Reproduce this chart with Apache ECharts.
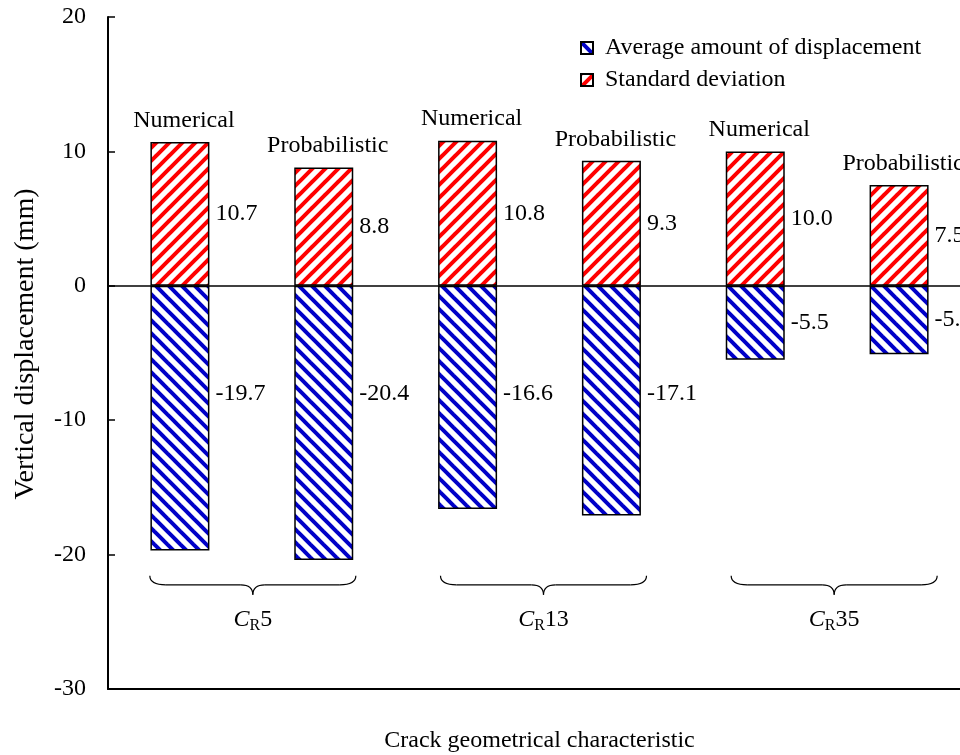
<!DOCTYPE html>
<html>
<head>
<meta charset="utf-8">
<script src="https://cdn.jsdelivr.net/npm/echarts@6/dist/echarts.min.js"></script>
<style>
  html, body { margin: 0; padding: 0; background: #fff; }
  #chart { width: 960px; height: 755px; }
</style>
</head>
<body>
<div id="chart"></div>
<script>
// Crack groups (C_R value) and the two estimation methods per group
const groups = ['5', '13', '35'];
const methods = ['Numerical', 'Probabilistic'];
const categories = ['CR5-Num', 'CR5-Prob', 'CR13-Num', 'CR13-Prob', 'CR35-Num', 'CR35-Prob'];

// Vertical displacement (mm)
const averageDisp = [-19.7, -20.4, -16.6, -17.1, -5.5, -5.1];
const stdDev = [10.7, 8.8, 10.8, 9.3, 10.0, 7.5];

const yTicks = { min: -30, max: 20, interval: 10 };

const FONT = "'Liberation Serif', 'Times New Roman', serif";
const FS = 24;
const BAR_W = 59;

// diagonal hatch tile: dir = 1 for "/" , -1 for "\"
function hatch(color, dir) {
  const s = 13;
  const c = document.createElement('canvas');
  c.width = s; c.height = s;
  const ctx = c.getContext('2d');
  ctx.fillStyle = '#ffffff';
  ctx.fillRect(0, 0, s, s);
  ctx.strokeStyle = color;
  ctx.lineWidth = 4;
  ctx.lineCap = 'square';
  for (const k of [-s, 0, s]) {
    ctx.beginPath();
    if (dir > 0) { ctx.moveTo(k, s); ctx.lineTo(k + s, 0); }
    else { ctx.moveTo(k, 0); ctx.lineTo(k + s, s); }
    ctx.stroke();
  }
  return { image: c, repeat: 'repeat' };
}

const chart = echarts.init(document.getElementById('chart'), null, { renderer: 'canvas' });

const valueLabel = {
  show: true, position: 'right', distance: 6,
  fontFamily: FONT, fontSize: FS, color: '#000',
  formatter: p => p.value.toFixed(1)
};

chart.setOption({
  animation: false,
  backgroundColor: '#ffffff',
  textStyle: { fontFamily: FONT, color: '#000' },
  grid: { left: 108, top: 17, bottom: 66, width: 863, containLabel: false, outerBoundsMode: 'none' },
  legend: {
    orient: 'vertical',
    left: 575,
    top: 31,
    itemWidth: 12,
    itemHeight: 12,
    itemGap: 8,
    icon: 'rect',
    data: ['Average amount of displacement', 'Standard deviation'],
    textStyle: { fontFamily: FONT, fontSize: FS, color: '#000', padding: [0, 0, 0, 7] }
  },
  xAxis: {
    type: 'category',
    data: categories,
    axisLine: { onZero: false, lineStyle: { color: '#000', width: 2 } },
    axisTick: { show: false },
    axisLabel: { show: false },
    name: 'Crack geometrical characteristic',
    nameLocation: 'middle',
    nameGap: 40,
    nameTextStyle: { fontFamily: FONT, fontSize: FS, color: '#000' }
  },
  yAxis: {
    type: 'value',
    min: yTicks.min,
    max: yTicks.max,
    interval: yTicks.interval,
    axisLine: { show: true, lineStyle: { color: '#000', width: 2 } },
    axisTick: { show: true, inside: true, length: 7, lineStyle: { color: '#000', width: 1.5 } },
    axisLabel: { fontFamily: FONT, fontSize: FS, color: '#000', margin: 22 },
    splitLine: { show: false },
    name: 'Vertical displacement (mm)',
    nameLocation: 'middle',
    nameGap: 68,
    nameTextStyle: { fontFamily: FONT, fontSize: 28, color: '#000', padding: [0, 0, 0, 18] }
  },
  series: [
    {
      name: 'Average amount of displacement',
      type: 'bar',
      stack: 'disp',
      barWidth: BAR_W,
      data: averageDisp,
      itemStyle: { color: hatch('#0000c8', -1), borderColor: '#000', borderWidth: 1.5 },
      label: valueLabel,
      markLine: {
        silent: true,
        symbol: 'none',
        label: { show: false },
        lineStyle: { color: '#000', width: 1.5, type: 'solid' },
        data: [{ yAxis: 0 }]
      },
      z: 2
    },
    {
      name: 'Standard deviation',
      type: 'bar',
      stack: 'disp',
      barWidth: BAR_W,
      data: stdDev,
      itemStyle: { color: hatch('#ff0000', 1), borderColor: '#000', borderWidth: 1.5 },
      label: valueLabel,
      z: 2
    },
    {
      // method names sitting above each standard-deviation bar
      name: 'method',
      type: 'scatter',
      data: stdDev,
      symbolSize: 1,
      itemStyle: { color: 'transparent', opacity: 1 },
      silent: true,
      label: {
        show: true, position: 'top', distance: 9, offset: [4, 0],
        fontFamily: FONT, fontSize: FS, color: '#000',
        formatter: p => methods[p.dataIndex % 2]
      },
      z: 3
    }
  ]
});

// long negative bars carry their label at a fixed depth, short ones at mid-bar
const pxPerUnit = chart.convertToPixel({ yAxisIndex: 0 }, 0) - chart.convertToPixel({ yAxisIndex: 0 }, 1);
const avgItems = averageDisp.map(v => {
  const target = Math.max(v / 2, -8);
  return { value: v, label: { offset: [0, (v / 2 - target) * pxPerUnit] } };
});

// curly braces grouping the two bars of each crack group
const y0 = chart.convertToPixel({ yAxisIndex: 0 }, 0);
const braceTop = y0 + 290, braceMid = y0 + 299, braceTip = y0 + 309, labelY = y0 + 334;
const braceStyle = { fill: 'none', stroke: '#000', lineWidth: 1.2 };
const graphics = [];
groups.forEach((g, i) => {
  const xa = chart.convertToPixel({ xAxisIndex: 0 }, categories[2 * i]);
  const xb = chart.convertToPixel({ xAxisIndex: 0 }, categories[2 * i + 1]);
  const xm = (xa + xb) / 2 + 1 + 3 * i;
  const half = 103;
  const xL = xm - half, xR = xm + half;
  const pieces = [
    { type: 'bezierCurve', shape: { x1: xL, y1: braceTop, cpx1: xL, cpy1: braceMid, x2: xL + 16, y2: braceMid } },
    { type: 'line', shape: { x1: xL + 16, y1: braceMid, x2: xm - 12, y2: braceMid } },
    { type: 'bezierCurve', shape: { x1: xm - 12, y1: braceMid, cpx1: xm, cpy1: braceMid, x2: xm, y2: braceTip } },
    { type: 'bezierCurve', shape: { x1: xm, y1: braceTip, cpx1: xm, cpy1: braceMid, x2: xm + 12, y2: braceMid } },
    { type: 'line', shape: { x1: xm + 12, y1: braceMid, x2: xR - 16, y2: braceMid } },
    { type: 'bezierCurve', shape: { x1: xR - 16, y1: braceMid, cpx1: xR, cpy1: braceMid, x2: xR, y2: braceTop } }
  ];
  pieces.forEach(p => graphics.push(Object.assign(p, { style: braceStyle, silent: true })));
  graphics.push({
    type: 'text',
    x: xm, y: labelY,
    style: {
      text: `{i|C}{s|R}{n|${g}}`,
      align: 'center',
      verticalAlign: 'middle',
      rich: {
        i: { fontFamily: FONT, fontSize: FS, fontStyle: 'italic', color: '#000' },
        s: { fontFamily: FONT, fontSize: 16, color: '#000', padding: [12, 0, 0, 0] },
        n: { fontFamily: FONT, fontSize: FS, color: '#000' }
      }
    },
    silent: true
  });
});

chart.setOption({
  series: [{ data: avgItems }],
  graphic: graphics
});
</script>
</body>
</html>
